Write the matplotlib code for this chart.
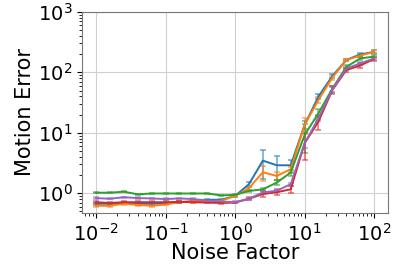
import matplotlib
matplotlib.use('Agg')
import matplotlib.pyplot as plt
from matplotlib.ticker import LogLocator
from matplotlib.colors import to_rgba

# noise factors (x axis)
noise = [0.01, 0.0158, 0.0251, 0.0398, 0.0631, 0.1, 0.158, 0.251, 0.398, 0.631,
         1.0, 1.58, 2.51, 3.98, 6.31, 10.0, 15.8, 25.1, 39.8, 63.1, 100.0]

# motion error per run
err_blue = [0.67, 0.67, 0.70, 0.67, 0.67, 0.68, 0.71, 0.74, 0.78, 0.78,
            0.90, 1.41, 3.46, 2.90, 2.90, 13.5, 39.6, 87, 160, 198, 218]
err_orange = [0.62, 0.62, 0.67, 0.64, 0.62, 0.65, 0.71, 0.74, 0.74, 0.75,
              0.90, 1.21, 2.22, 1.93, 2.50, 13.5, 34.8, 82, 160, 189, 218]
err_green = [1.02, 1.02, 1.06, 0.96, 0.99, 0.99, 0.99, 0.99, 0.99, 0.92,
             0.94, 1.09, 1.16, 1.50, 2.20, 9.2, 21, 54, 123, 170, 182]
err_red = [0.71, 0.69, 0.71, 0.71, 0.71, 0.71, 0.72, 0.71, 0.70, 0.69,
           0.70, 0.81, 0.97, 1.04, 1.16, 6.7, 15.3, 51, 109, 130, 166]
err_purple = [0.83, 0.81, 0.86, 0.83, 0.82, 0.80, 0.82, 0.80, 0.76, 0.73,
              0.71, 0.81, 1.03, 1.10, 1.41, 6.7, 17.4, 52, 116, 140, 170]

# standard deviations
sd_blue = [0.02, 0.02, 0.02, 0.02, 0.02, 0.02, 0.02, 0.02, 0.02, 0.02,
           0.03, 0.12, 1.74, 1.27, 0.7, 2.0, 4.0, 6, 8, 10, 12]
sd_orange = [0.02, 0.02, 0.02, 0.02, 0.02, 0.02, 0.02, 0.02, 0.02, 0.02,
             0.03, 0.08, 0.65, 0.3, 0.25, 4.0, 4.0, 6, 8, 10, 20]
sd_green = [0.02, 0.02, 0.02, 0.02, 0.02, 0.02, 0.02, 0.02, 0.02, 0.02,
            0.02, 0.03, 0.05, 0.15, 0.25, 4.6, 4.0, 6, 8, 10, 12]
sd_red = [0.02, 0.02, 0.02, 0.02, 0.02, 0.02, 0.02, 0.02, 0.02, 0.02,
          0.02, 0.05, 0.12, 0.12, 0.15, 3.1, 4.0, 8, 8, 10, 12]
sd_purple = [0.02, 0.02, 0.02, 0.02, 0.02, 0.02, 0.02, 0.02, 0.02, 0.02,
             0.02, 0.03, 0.05, 0.05, 0.08, 1.0, 2.0, 6, 8, 10, 12]

series = [(err_blue, sd_blue, 'tab:blue'),
          (err_orange, sd_orange, 'tab:orange'),
          (err_green, sd_green, 'tab:green'),
          (err_red, sd_red, 'tab:red'),
          (err_purple, sd_purple, 'tab:purple')]

fig = plt.figure(figsize=(4.15, 2.64), dpi=100)
ax = fig.add_axes([0.198, 0.193, 0.737, 0.762])

for y, sd, c in series:
    ax.errorbar(noise, y, yerr=sd, color=c, lw=1.4, capsize=2.5,
                ecolor=to_rgba(c, 0.6), elinewidth=1.2, capthick=1.2)

ax.set_xscale('log')
ax.set_yscale('log')
ax.set_ylim(0.47, 1000)
ax.xaxis.set_major_locator(LogLocator(base=10, numticks=12))
ax.yaxis.set_major_locator(LogLocator(base=10, numticks=12))
ax.grid(True, color='#d0d0d0', lw=0.8)
ax.set_xlabel('Noise Factor', fontsize=15, labelpad=-1)
ax.set_ylabel('Motion Error', fontsize=15, labelpad=2)
ax.tick_params(labelsize=14)
for s in ax.spines.values():
    s.set_color('#777777')

fig.savefig('out.png', dpi=100)
